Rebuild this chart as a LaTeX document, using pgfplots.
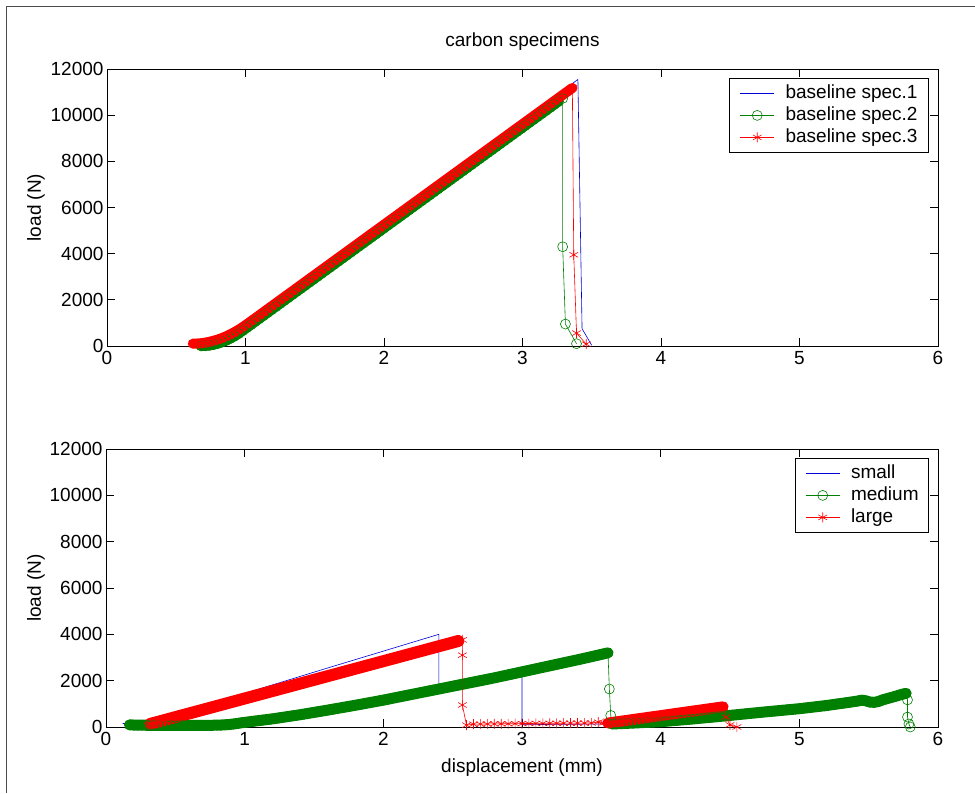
\documentclass[border=0pt]{standalone}
\usepackage{fontspec}
\setmainfont{Liberation Sans}
\usepackage{pgfplots}
\usepackage{pgfplotstable}
\pgfplotsset{compat=1.18}
\definecolor{mgreen}{rgb}{0,0.5,0}
\definecolor{mblue}{rgb}{0,0,0.85}

% ---------- top: baseline spec.3 (red) ----------
\pgfplotstableread{
x y
0.62 100
0.65 105
0.68 120
0.71 145
0.74 180
0.77 225
0.80 280
0.83 345
0.86 420
0.89 505
0.92 600
0.95 704
0.98 819
1.01 944
1.04 1074
1.07 1205
1.10 1336
1.13 1466
1.16 1597
1.19 1728
1.22 1858
1.25 1989
1.28 2120
1.31 2250
1.34 2381
1.37 2512
1.40 2642
1.43 2773
1.46 2904
1.49 3034
1.52 3165
1.55 3296
1.58 3426
1.61 3557
1.64 3688
1.67 3819
1.70 3949
1.73 4080
1.76 4211
1.79 4341
1.82 4472
1.85 4603
1.88 4733
1.91 4864
1.94 4995
1.97 5125
2.00 5256
2.03 5387
2.06 5517
2.09 5648
2.12 5779
2.15 5909
2.18 6040
2.21 6171
2.24 6301
2.27 6432
2.30 6563
2.33 6693
2.36 6824
2.39 6955
2.42 7086
2.45 7216
2.48 7347
2.51 7478
2.54 7608
2.57 7739
2.60 7870
2.63 8000
2.66 8131
2.69 8262
2.72 8392
2.75 8523
2.78 8654
2.81 8784
2.84 8915
2.87 9046
2.90 9176
2.93 9307
2.96 9438
2.99 9568
3.02 9699
3.05 9830
3.08 9960
3.11 10091
3.14 10222
3.17 10352
3.20 10483
3.23 10614
3.26 10744
3.29 10875
3.32 11006
3.35 11136
3.36 11180
3.37 3950
3.39 560
3.46 80
}\tRt

% ---------- top: baseline spec.2 (green) ----------
\pgfplotstableread{
x y
0.68 0
0.71 7
0.74 26
0.77 60
0.80 106
0.83 166
0.86 238
0.89 324
0.92 424
0.95 536
0.98 663
1.01 794
1.04 924
1.07 1055
1.10 1186
1.13 1316
1.16 1447
1.19 1578
1.22 1708
1.25 1839
1.28 1970
1.31 2100
1.34 2231
1.37 2362
1.40 2492
1.43 2623
1.46 2754
1.49 2884
1.52 3015
1.55 3146
1.58 3276
1.61 3407
1.64 3538
1.67 3669
1.70 3799
1.73 3930
1.76 4061
1.79 4191
1.82 4322
1.85 4453
1.88 4583
1.91 4714
1.94 4845
1.97 4975
2.00 5106
2.03 5237
2.06 5367
2.09 5498
2.12 5629
2.15 5759
2.18 5890
2.21 6021
2.24 6151
2.27 6282
2.30 6413
2.33 6543
2.36 6674
2.39 6805
2.42 6936
2.45 7066
2.48 7197
2.51 7328
2.54 7458
2.57 7589
2.60 7720
2.63 7850
2.66 7981
2.69 8112
2.72 8242
2.75 8373
2.78 8504
2.81 8634
2.84 8765
2.87 8896
2.90 9026
2.93 9157
2.96 9288
2.99 9418
3.02 9549
3.05 9680
3.08 9810
3.11 9941
3.14 10072
3.17 10202
3.20 10333
3.23 10464
3.26 10594
3.29 10725
3.29 4300
3.31 950
3.39 100
}\tGt

% ---------- bottom: large (red) ----------
\pgfplotstableread{
x y
0.32 135
0.35 183
0.38 231
0.41 280
0.44 328
0.47 376
0.50 425
0.53 473
0.56 521
0.59 570
0.62 618
0.65 666
0.68 714
0.71 763
0.74 811
0.77 859
0.80 908
0.83 956
0.86 1004
0.89 1053
0.92 1101
0.95 1149
0.98 1198
1.01 1246
1.04 1294
1.07 1343
1.10 1391
1.13 1439
1.16 1488
1.19 1536
1.22 1584
1.25 1633
1.28 1681
1.31 1729
1.34 1778
1.37 1826
1.40 1874
1.43 1923
1.46 1971
1.49 2019
1.52 2068
1.55 2116
1.58 2164
1.61 2213
1.64 2261
1.67 2309
1.70 2358
1.73 2406
1.76 2454
1.79 2503
1.82 2551
1.85 2599
1.88 2648
1.91 2696
1.94 2744
1.97 2793
2.00 2841
2.03 2889
2.06 2938
2.09 2986
2.12 3034
2.15 3083
2.18 3131
2.21 3179
2.24 3228
2.27 3276
2.30 3324
2.33 3373
2.36 3421
2.39 3469
2.42 3518
2.45 3566
2.48 3614
2.51 3663
2.54 3711
2.57 3759
2.57 3100
2.57 950
2.60 80
2.65 120
2.70 125
2.75 130
2.80 135
2.85 140
2.90 140
2.95 145
3.00 150
3.05 150
3.10 155
3.15 155
3.20 160
3.25 160
3.30 165
3.35 165
3.40 170
3.45 170
3.50 175
3.55 210
3.59 180
3.62 170
3.65 195
3.68 221
3.71 246
3.74 271
3.77 296
3.80 322
3.83 347
3.86 372
3.89 398
3.92 423
3.95 448
3.98 473
4.01 499
4.04 524
4.07 549
4.10 575
4.13 600
4.16 625
4.19 651
4.22 676
4.25 701
4.28 726
4.31 752
4.34 777
4.37 802
4.40 828
4.43 853
4.45 870
4.47 430
4.50 90
4.55 0
}\tRb

% ---------- bottom: medium (green) ----------
\pgfplotstableread{
x y
0.17 90
0.20 85
0.23 80
0.26 80
0.29 75
0.32 75
0.35 70
0.38 70
0.41 70
0.44 65
0.47 65
0.50 65
0.53 65
0.56 65
0.59 65
0.62 65
0.65 65
0.68 65
0.71 70
0.74 70
0.77 75
0.80 80
0.83 85
0.86 95
0.89 110
0.92 130
0.95 155
0.98 185
1.01 205
1.04 230
1.07 253
1.10 275
1.13 298
1.16 320
1.19 343
1.22 368
1.25 395
1.28 422
1.31 449
1.34 476
1.37 503
1.40 530
1.43 560
1.46 590
1.49 620
1.52 650
1.55 680
1.58 710
1.61 741
1.64 772
1.67 804
1.70 835
1.73 867
1.76 898
1.79 930
1.82 962
1.85 995
1.88 1028
1.91 1061
1.94 1094
1.97 1127
2.00 1160
2.03 1196
2.06 1232
2.09 1268
2.12 1304
2.15 1340
2.18 1376
2.21 1412
2.24 1448
2.27 1484
2.30 1520
2.33 1556
2.36 1592
2.39 1628
2.42 1664
2.45 1700
2.48 1736
2.51 1772
2.54 1808
2.57 1844
2.60 1880
2.63 1916
2.66 1952
2.69 1988
2.72 2024
2.75 2060
2.78 2096
2.81 2133
2.84 2172
2.87 2211
2.90 2250
2.93 2289
2.96 2328
2.99 2367
3.02 2406
3.05 2445
3.08 2484
3.11 2523
3.14 2562
3.17 2601
3.20 2640
3.23 2679
3.26 2718
3.29 2757
3.32 2796
3.35 2835
3.38 2874
3.41 2913
3.44 2953
3.47 2994
3.50 3035
3.53 3076
3.56 3117
3.59 3158
3.62 3200
3.63 1640
3.64 500
3.65 130
3.68 138
3.71 146
3.74 154
3.77 162
3.80 170
3.83 179
3.86 188
3.89 197
3.92 206
3.95 215
3.98 224
4.01 235
4.04 250
4.07 265
4.10 280
4.13 295
4.16 310
4.19 325
4.22 341
4.25 358
4.28 375
4.31 392
4.34 408
4.37 425
4.40 442
4.43 459
4.46 476
4.49 494
4.52 512
4.55 530
4.58 548
4.61 566
4.64 584
4.67 602
4.70 620
4.73 637
4.76 654
4.79 671
4.82 688
4.85 705
4.88 722
4.91 739
4.94 756
4.97 773
5.00 790
5.03 811
5.06 832
5.09 853
5.12 874
5.15 895
5.18 916
5.21 938
5.24 964
5.27 990
5.30 1015
5.33 1040
5.36 1066
5.39 1092
5.42 1120
5.45 1158
5.48 1130
5.51 1075
5.54 1065
5.57 1100
5.60 1170
5.63 1220
5.66 1270
5.69 1320
5.72 1375
5.75 1425
5.77 1450
5.78 1170
5.78 430
5.79 130
5.80 0
}\tGb

\pgfplotsset{
  myax/.style={
    scale only axis,
    xmin=0, xmax=6, ymin=0, ymax=12000,
    xtick={0,1,2,3,4,5,6},
    ytick={0,2000,4000,6000,8000,10000,12000},
    scaled y ticks=false,
    /pgf/number format/1000 sep={},
    /pgf/number format/assume math mode=true,
    tick align=inside,
    major tick length=8pt,
    tick style={black, line width=0.8pt},
    axis line style={line width=0.8pt},
    tick label style={font=\fontsize{19}{22}\selectfont},
    xticklabel style={yshift=-2pt},
    label style={font=\fontsize{19}{22}\selectfont},
    clip=false,
    legend cell align=left,
    legend style={at={(1,1)}, anchor=north east, xshift=-9pt, yshift=-9pt,
      draw=black, line width=0.8pt, fill=white,
      inner xsep=11pt, inner ysep=5pt, row sep=2pt,
      font=\fontsize{19}{22}\selectfont,
      nodes={inner sep=0pt, text height=15pt, text depth=5pt},
      /tikz/every odd column/.append style={column sep=11pt}},
    legend image code/.code={\draw[mark repeat=2,mark phase=2] plot coordinates {(0pt,0pt) (17pt,0pt) (34pt,0pt)};},
  },
  pblue/.style={mblue, line width=0.6pt, mark=none},
  pgreen/.style={mgreen, line width=0.6pt, mark=o, mark size=5pt, mark options={line width=0.6pt}},
  pred/.style={red, line width=0.6pt, mark=asterisk, mark size=5pt, mark options={line width=0.6pt}},
  under/.style={line width=#1, line cap=round, line join=round, mark=none, forget plot},
}

\begin{document}
\begin{tikzpicture}[x=1pt,y=1pt]
\path[use as bounding box] (0,0) rectangle (975,793);
\draw[black!70, line width=1pt] (6,0) -- (6,786) -- (975,786);

\begin{axis}[myax, at={(107pt,447pt)}, anchor=south west,
  width=831pt, height=277pt,
  title={carbon specimens},
  title style={font=\fontsize{19}{22}\selectfont, at={(axis description cs:0.5,1.0758)}, anchor=center},
  ylabel={load (N)},
  ylabel style={at={(axis description cs:-0.0854,0.5)}, anchor=center},
]
\addplot[pblue] coordinates {(0.60,100) (0.70,200) (0.80,420) (0.90,650) (1.00,960) (1.50,3150) (2.00,5330) (2.50,7520) (3.00,9700) (3.40,11550) (3.43,750) (3.50,30)};
\addlegendentry{baseline spec.1}
\addplot[mgreen, under=10pt, restrict x to domain=0.68:3.285] table {\tGt};
\addplot[pgreen] table {\tGt};
\addlegendentry{baseline spec.2}
\addplot[red, under=10pt, restrict x to domain=0.62:3.365] table {\tRt};
\addplot[pred] table {\tRt};
\addlegendentry{baseline spec.3}
\end{axis}

\begin{axis}[myax, at={(106pt,66pt)}, anchor=south west,
  width=832pt, height=278pt,
  ylabel={load (N)},
  ylabel style={at={(axis description cs:-0.0841,0.5)}, anchor=center},
  xlabel={displacement (mm)},
  xlabel style={at={(axis description cs:0.5,-0.1475)}, anchor=center},
  legend style={inner xsep=10pt},
]
\addplot[pblue] coordinates {(0.12,150) (0.30,170) (1.00,1450) (1.60,2550) (2.40,4000) (2.40,1800) (3.00,2550) (3.00,100) (3.60,130)};
\addlegendentry{small}
\addplot[mgreen, under=11pt, restrict x to domain=0.17:3.625] table {\tGb};
\addplot[mgreen, under=11pt, restrict x to domain=3.645:5.775] table {\tGb};
\addplot[pgreen] table {\tGb};
\addlegendentry{medium}
\addplot[red, under=12pt, restrict x to domain=0.32:2.565] table {\tRb};
\addplot[red, under=11pt, restrict x to domain=3.615:4.455] table {\tRb};
\addplot[pred] table {\tRb};
\addlegendentry{large}
\end{axis}
\end{tikzpicture}
\end{document}
